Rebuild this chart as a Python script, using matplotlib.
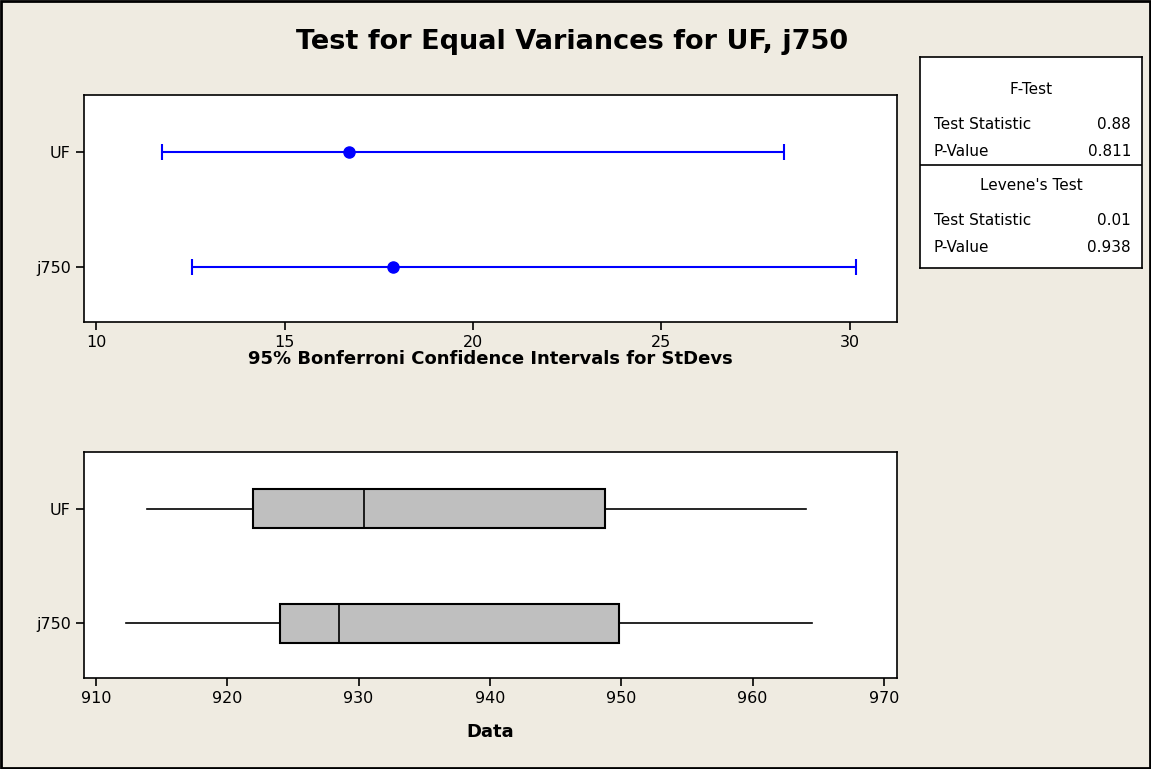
import matplotlib
matplotlib.use("Agg")
import matplotlib.pyplot as plt
from matplotlib.patches import Rectangle

# data
groups = ["UF", "j750"]
sd_low = [11.75, 12.54]
sd_est = [16.71, 17.88]
sd_high = [28.24, 30.15]

whislo = [913.9, 912.3]
q1 = [922.0, 924.0]
med = [930.4, 928.5]
q3 = [948.8, 949.8]
whishi = [964.1, 964.5]

ftest = [("Test Statistic", "0.88"), ("P-Value", "0.811")]
levene = [("Test Statistic", "0.01"), ("P-Value", "0.938")]

bg = "#EFEBE1"
plt.rcParams["font.family"] = ["DejaVu Sans"]

fig = plt.figure(figsize=(11.51, 7.69), dpi=100, facecolor=bg)
fig.patches.append(Rectangle((0.001, 0.001), 0.998, 0.998, transform=fig.transFigure,
                             fill=False, edgecolor="black", linewidth=2))

fig.text(0.497, 0.945, "Test for Equal Variances for UF, j750", ha="center", va="center",
         fontsize=19.5, fontweight="bold")

ypos = [1, 0]

# top panel: confidence intervals
ax1 = fig.add_axes([0.073, 0.5813, 0.7064, 0.2952])
for y, lo, est, hi in zip(ypos, sd_low, sd_est, sd_high):
    ax1.errorbar([est], [y], xerr=[[est - lo], [hi - est]], fmt="o", color="blue",
                 markersize=8, capsize=5.5, elinewidth=1.5, capthick=1.5)
ax1.set_xlim(9.68, 31.25)
ax1.set_ylim(-0.478, 1.496)
ax1.set_yticks(ypos)
ax1.set_yticklabels(groups)
ax1.set_xticks([10, 15, 20, 25, 30])
ax1.set_xlabel("95% Bonferroni Confidence Intervals for StDevs", fontsize=13,
               fontweight="bold", labelpad=0)

# bottom panel: boxplots
ax2 = fig.add_axes([0.073, 0.1183, 0.7064, 0.2939])
stats = []
for i in range(len(groups)):
    stats.append({"whislo": whislo[i], "q1": q1[i], "med": med[i], "q3": q3[i],
                  "whishi": whishi[i], "fliers": []})
ax2.bxp(stats, positions=ypos, vert=False, widths=0.34, patch_artist=True, showcaps=False,
        boxprops=dict(facecolor="#BFBFBF", edgecolor="black", linewidth=1.5),
        medianprops=dict(color="black", linewidth=1.2),
        whiskerprops=dict(color="black", linewidth=1.2))
ax2.set_xlim(909.1, 971)
ax2.set_ylim(-0.478, 1.496)
ax2.set_yticks(ypos)
ax2.set_yticklabels(groups)
ax2.set_xticks([910, 920, 930, 940, 950, 960, 970])
ax2.set_xlabel("Data", fontsize=13, fontweight="bold", labelpad=12)

for ax in (ax1, ax2):
    ax.set_facecolor("white")
    ax.tick_params(labelsize=11.5, length=6, width=1.2)
    for s in ax.spines.values():
        s.set_linewidth(1.2)

# results table
axt = fig.add_axes([0.7993, 0.6515, 0.1929, 0.2744])
axt.set_facecolor("white")
axt.set_xticks([])
axt.set_yticks([])
for s in axt.spines.values():
    s.set_linewidth(1.2)
axt.set_xlim(0, 1)
axt.set_ylim(0, 1)
axt.axhline(0.488, color="black", linewidth=1.2)
axt.text(0.5, 0.844, "F-Test", ha="center", va="center", fontsize=11)
axt.text(0.5, 0.389, "Levene's Test", ha="center", va="center", fontsize=11)
for rows, ys in ((ftest, [0.678, 0.550]), (levene, [0.223, 0.095])):
    for (name, val), y in zip(rows, ys):
        axt.text(0.063, y, name, ha="left", va="center", fontsize=11)
        axt.text(0.95, y, val, ha="right", va="center", fontsize=11)

fig.savefig("out.png", dpi=100, facecolor=bg)
